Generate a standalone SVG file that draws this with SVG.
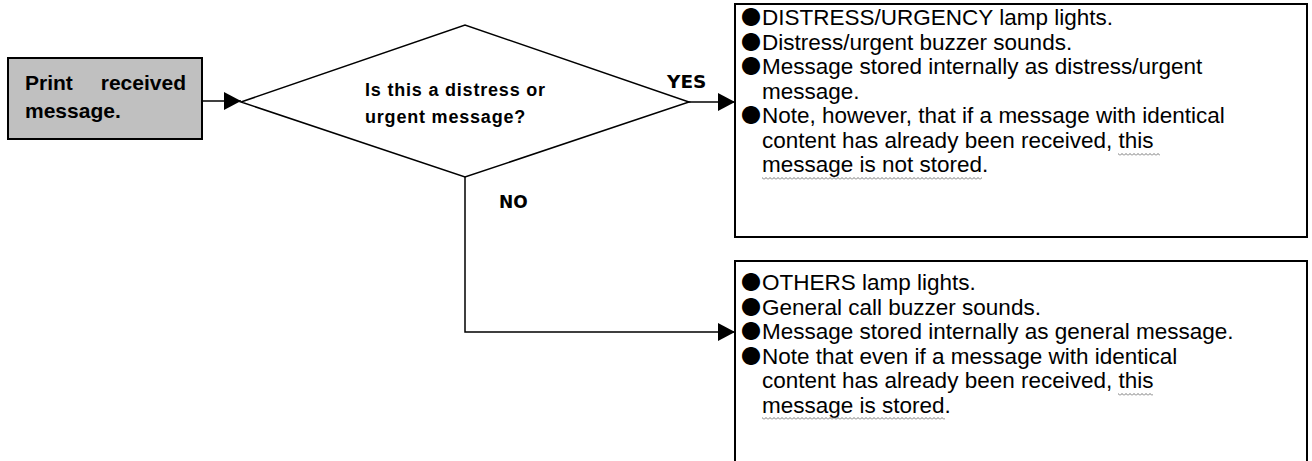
<svg xmlns="http://www.w3.org/2000/svg" width="1312" height="461" viewBox="0 0 1312 461">
<defs>
<marker id="ah" markerWidth="18" markerHeight="18" refX="17" refY="9" orient="auto" markerUnits="userSpaceOnUse">
<path d="M0,0 L17,9 L0,18 Z" fill="#000"/>
</marker>
<pattern id="wave" patternUnits="userSpaceOnUse" width="4" height="3">
<path d="M0,2.5 L2,0.5 L4,2.5" fill="none" stroke="#555" stroke-width="0.8"/>
</pattern>
<style>
.box{fill:#fff;stroke:#000;stroke-width:2}
.gbox{fill:#c0c0c0;stroke:#000;stroke-width:2}
.line{fill:none;stroke:#000;stroke-width:1.5}
.bt{font-family:"Liberation Sans",Arial,sans-serif;font-weight:bold;fill:#000}
.yn{font-family:"DejaVu Sans",Verdana,sans-serif;font-weight:bold;fill:#000}
.tx{font-family:"Liberation Sans",Arial,sans-serif;font-size:22.5px;fill:#000}
.bul{font-family:"Noto Sans CJK JP",sans-serif;font-size:20px}
</style>
</defs>
<rect width="1312" height="461" fill="#fff"/>
<g id="connectors">
<line class="line" x1="203" y1="101" x2="241" y2="101" marker-end="url(#ah)"/>
<line class="line" x1="688" y1="102" x2="735" y2="102" marker-end="url(#ah)"/>
<polyline class="line" points="465,177 465,332 735,332" marker-end="url(#ah)"/>
<text class="yn" x="667" y="88" font-size="18.5">YES</text>
<text class="yn" x="499" y="208" font-size="17">NO</text>
</g>
<g id="start">
<rect class="gbox" x="8" y="58" width="194" height="81"/>
<text class="bt" font-size="21" y="90"><tspan x="25">Print</tspan><tspan x="186" text-anchor="end">received</tspan></text>
<text class="bt" font-size="21" x="25" y="118">message.</text>
</g>
<g id="decision">
<polygon points="241,102 465,25 689,102 465,177" fill="#fff" stroke="#000" stroke-width="1.5"/>
<text class="bt" font-size="18" letter-spacing="0.8" x="365" y="96">Is this a distress or</text>
<text class="bt" font-size="18" letter-spacing="0.8" x="365" y="123">urgent message?</text>
</g>
<g id="yes-actions">
<rect class="box" x="735" y="4" width="572" height="233"/>
<text class="tx" y="25"><tspan class="bul" x="741">●</tspan><tspan x="762">DISTRESS/URGENCY lamp lights.</tspan></text>
<text class="tx" y="49.5"><tspan class="bul" x="741">●</tspan><tspan x="762">Distress/urgent buzzer sounds.</tspan></text>
<text class="tx" y="74"><tspan class="bul" x="741">●</tspan><tspan x="762">Message stored internally as distress/urgent</tspan></text>
<text class="tx" x="762" y="98.5">message.</text>
<text class="tx" y="123"><tspan class="bul" x="741">●</tspan><tspan x="762">Note, however, that if a message with identical</tspan></text>
<text class="tx" x="762" y="147.5">content has already been received, this</text>
<text class="tx" x="762" y="172">message is not stored.</text>
<rect x="1118" y="153" width="42" height="3" fill="url(#wave)"/>
<rect x="762" y="177" width="220" height="3" fill="url(#wave)"/>
</g>
<g id="no-actions">
<rect class="box" x="735" y="261" width="572" height="220"/>
<text class="tx" y="290"><tspan class="bul" x="741">●</tspan><tspan x="762">OTHERS lamp lights.</tspan></text>
<text class="tx" y="314.5"><tspan class="bul" x="741">●</tspan><tspan x="762">General call buzzer sounds.</tspan></text>
<text class="tx" y="339"><tspan class="bul" x="741">●</tspan><tspan x="762">Message stored internally as general message.</tspan></text>
<text class="tx" y="363.5"><tspan class="bul" x="741">●</tspan><tspan x="762">Note that even if a message with identical</tspan></text>
<text class="tx" x="762" y="388">content has already been received, this</text>
<text class="tx" x="762" y="412.5">message is stored.</text>
<rect x="1118" y="393" width="35" height="3" fill="url(#wave)"/>
<rect x="762" y="417" width="183" height="3" fill="url(#wave)"/>
</g>
</svg>
